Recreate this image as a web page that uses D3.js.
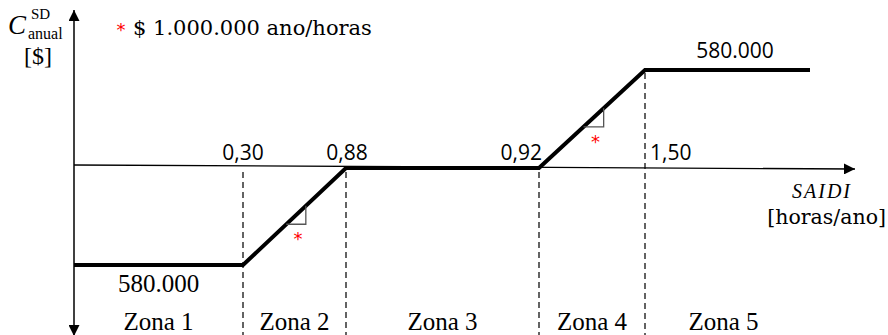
<!DOCTYPE html>
<html>
<head>
<meta charset="utf-8">
<script src="https://cdn.jsdelivr.net/npm/d3@7"></script>
<style>
  body { margin: 0; background: #fff; }
  svg { display: block; }
  .num { font-family: "Open Sans", sans-serif; font-size: 21px; fill: #000; }
  .serif { font-family: "Liberation Serif", "Times New Roman", Times, serif; fill: #000; }
  .cam { font-family: "DejaVu Serif", serif; fill: #000; }
</style>
</head>
<body>
<div class="chart-container"></div>
<script>
var w = 888;
var h = 335;

// SAIDI breakpoints (horas/ano) and the cost curve (schematic)
var saidiPoints = [0, 0.30, 0.88, 0.92, 1.50, 1.80];
var costValues = [-580000, -580000, 0, 0, 580000, 580000];
var breaks = [0.30, 0.88, 0.92, 1.50];
var breakLabels = ["0,30", "0,88", "0,92", "1,50"];
var zones = ["Zona 1", "Zona 2", "Zona 3", "Zona 4", "Zona 5"];
var costLabels = ["580.000", "580.000"];
var legendText = "$ 1.000.000 ano/horas";

// piecewise scale, the drawing is not to scale
var xScale = d3.scaleLinear()
    .domain(saidiPoints)
    .range([74, 243, 346, 539, 645, 810]);

var yScale = d3.scaleLinear()
    .domain([-580000, 0, 580000])
    .range([265, 168, 70]);

var svg = d3.select(".chart-container")
    .append("svg")
    .attr("width", w)
    .attr("height", h);

var defs = svg.append("defs");
defs.append("marker")
    .attr("id", "arrow")
    .attr("viewBox", "0 0 10 10")
    .attr("refX", 10).attr("refY", 5)
    .attr("markerWidth", 11).attr("markerHeight", 11)
    .attr("markerUnits", "userSpaceOnUse")
    .attr("orient", "auto")
    .append("path")
    .attr("d", "M0,0 L10,5 L0,10 Z")
    .attr("fill", "#000");

// dashed zone boundaries
svg.selectAll(".dash")
    .data(breaks)
    .enter()
    .append("line")
    .attr("class", "dash")
    .attr("x1", function(d) { return xScale(d); })
    .attr("x2", function(d) { return xScale(d); })
    .attr("y1", function(d) { return d == 1.50 ? yScale(580000) + 3 : yScale(0) + 4; })
    .attr("y2", h)
    .attr("stroke", "#222")
    .attr("stroke-width", 1.4)
    .attr("stroke-dasharray", "6,4");

// x-axis (slightly tilted as in the original figure)
svg.append("line")
    .attr("x1", xScale(0)).attr("y1", 165)
    .attr("x2", 855).attr("y2", 169)
    .attr("stroke", "#000")
    .attr("stroke-width", 1.3)
    .attr("marker-end", "url(#arrow)");

// y-axis, arrows both ways
svg.append("line")
    .attr("x1", xScale(0)).attr("y1", 175)
    .attr("x2", xScale(0)).attr("y2", 10)
    .attr("stroke", "#000").attr("stroke-width", 1.5)
    .attr("marker-end", "url(#arrow)");
svg.append("line")
    .attr("x1", xScale(0)).attr("y1", 175)
    .attr("x2", xScale(0)).attr("y2", 336)
    .attr("stroke", "#000").attr("stroke-width", 1.5)
    .attr("marker-end", "url(#arrow)");

// cost curve
var line = d3.line()
    .x(function(d, i) { return xScale(saidiPoints[i]); })
    .y(function(d) { return yScale(d); });

svg.append("path")
    .datum(costValues)
    .attr("d", line)
    .attr("fill", "none")
    .attr("stroke", "#000")
    .attr("stroke-width", 4)
    .attr("stroke-linejoin", "miter");

// slope triangles with red asterisks
var slopes = [[0.30, 0.88, -580000, 0], [0.92, 1.50, 0, 580000]];
slopes.forEach(function(s) {
    var x0 = xScale(s[0]), x1 = xScale(s[1]);
    var y0 = yScale(s[2]), y1 = yScale(s[3]);
    var t1 = 0.42, t2 = 0.61;
    var ax = x0 + (x1 - x0) * t1, ay = y0 + (y1 - y0) * t1;
    var bx = x0 + (x1 - x0) * t2, by = y0 + (y1 - y0) * t2;
    svg.append("path")
        .attr("d", "M" + ax + "," + ay + " L" + bx + "," + ay + " L" + bx + "," + by)
        .attr("fill", "none")
        .attr("stroke", "#555")
        .attr("stroke-width", 1.3);
    svg.append("text")
        .attr("x", (ax + bx) / 2 + 2)
        .attr("y", ay + 21)
        .attr("text-anchor", "middle")
        .attr("fill", "red")
        .style("font-family", "DejaVu Sans, sans-serif")
        .style("font-size", "18px")
        .text("*");
});

// breakpoint labels
var labelPos = [
    {anchor: "middle", dx: 0},
    {anchor: "middle", dx: 1},
    {anchor: "end", dx: 3},
    {anchor: "start", dx: 5}
];
svg.selectAll(".brk")
    .data(breaks)
    .enter()
    .append("text")
    .attr("class", "num")
    .attr("x", function(d, i) { return xScale(d) + labelPos[i].dx; })
    .attr("y", 160)
    .attr("text-anchor", function(d, i) { return labelPos[i].anchor; })
    .text(function(d, i) { return breakLabels[i]; });

// cost level labels
svg.append("text")
    .attr("class", "num")
    .attr("x", 735)
    .attr("y", yScale(580000) - 12)
    .attr("text-anchor", "middle")
    .text(costLabels[1]);

svg.append("text")
    .attr("class", "serif")
    .attr("x", (xScale(0) + xScale(0.30)) / 2)
    .attr("y", yScale(-580000) + 27)
    .attr("text-anchor", "middle")
    .style("font-size", "25px")
    .text(costLabels[0]);

// zone labels
var zoneEdges = [0, 0.30, 0.88, 0.92, 1.50, 1.80];
svg.selectAll(".zone")
    .data(zones)
    .enter()
    .append("text")
    .attr("class", "serif")
    .attr("x", function(d, i) { return (xScale(zoneEdges[i]) + xScale(zoneEdges[i + 1])) / 2 - (i == 4 ? 4 : 0); })
    .attr("y", 330)
    .attr("text-anchor", "middle")
    .style("font-size", "25px")
    .text(function(d) { return d; });

// legend
svg.append("text")
    .attr("x", 121)
    .attr("y", 36)
    .attr("text-anchor", "middle")
    .attr("fill", "red")
    .style("font-family", "DejaVu Sans, sans-serif")
    .style("font-size", "18px")
    .text("*");
svg.append("text")
    .attr("class", "cam")
    .attr("x", 133)
    .attr("y", 35)
    .style("font-size", "21px")
    .text(legendText);

// y-axis title
svg.append("text").attr("class", "serif").attr("x", 8).attr("y", 34)
    .style("font-style", "italic").style("font-size", "27px").text("C");
svg.append("text").attr("class", "serif").attr("x", 31).attr("y", 19)
    .style("font-size", "15px").text("SD");
svg.append("text").attr("class", "serif").attr("x", 28).attr("y", 39)
    .style("font-size", "16px").text("anual");
svg.append("text").attr("class", "serif").attr("x", 38).attr("y", 64)
    .attr("text-anchor", "middle")
    .style("font-size", "24px").text("[$]");

// x-axis title
svg.append("text").attr("class", "serif")
    .attr("x", 852).attr("y", 198)
    .attr("text-anchor", "end")
    .style("font-style", "italic")
    .style("font-size", "20px")
    .style("letter-spacing", "2px")
    .text("SAIDI");
svg.append("text").attr("class", "cam")
    .attr("x", 886).attr("y", 224)
    .attr("text-anchor", "end")
    .style("font-size", "20.5px")
    .text("[horas/ano]");
</script>
</body>
</html>
